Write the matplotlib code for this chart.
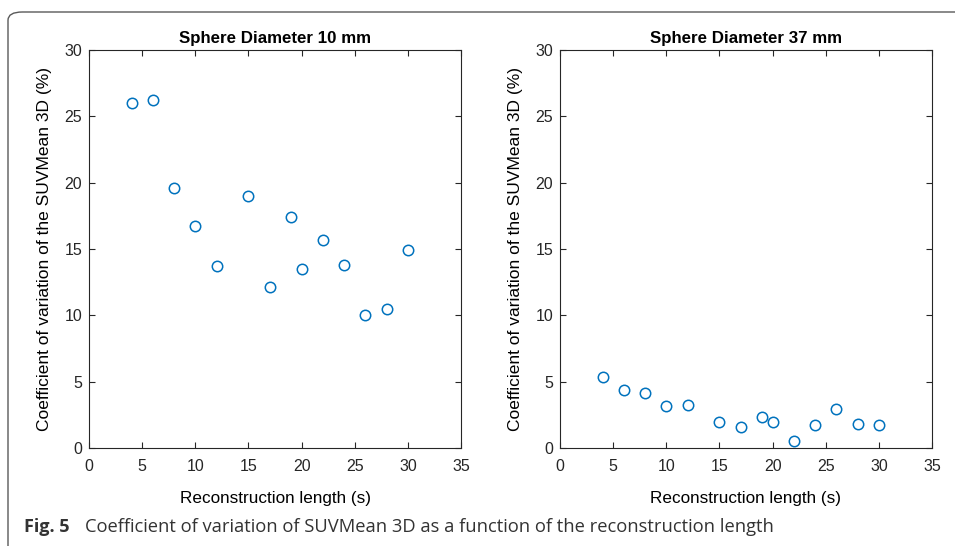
import numpy as np
import matplotlib.pyplot as plt
from matplotlib.patches import FancyBboxPatch

# reconstruction lengths (s) and coefficient of variation (%) per sphere size
recon_length = [4, 6, 8, 10, 12, 15, 17, 19, 20, 22, 24, 26, 28, 30]
cv_10mm = [26.0, 26.2, 19.6, 16.7, 13.7, 19.0, 12.1, 17.4, 13.5, 15.7, 13.8, 10.0, 10.5, 14.9]
cv_37mm = [5.35, 4.4, 4.12, 3.17, 3.27, 1.93, 1.6, 2.3, 1.93, 0.55, 1.7, 2.91, 1.78, 1.7]
titles = ["Sphere Diameter 10 mm", "Sphere Diameter 37 mm"]

plt.rcParams['font.family'] = ['Liberation Sans', 'DejaVu Sans']
matlab_blue = (0.0, 0.447, 0.741)
ink = (0.15, 0.15, 0.15)

fig = plt.figure(figsize=(9.55, 5.46), dpi=100)

# frame round the figure panel
frame = FancyBboxPatch((8 / 955, -0.2), 1.2, (546 - 12) / 546 + 0.2,
                       boxstyle="round,pad=0,rounding_size=0.015",
                       transform=fig.transFigure, fill=False,
                       edgecolor=(0.35, 0.35, 0.35), linewidth=1.0)
fig.patches.append(frame)

lefts = [89 / 955, 560 / 955]
for left, title, cv in zip(lefts, titles, [cv_10mm, cv_37mm]):
    ax = fig.add_axes([left, 98 / 546, 372 / 955, 398 / 546])
    ax.plot(recon_length, cv, 'o', markerfacecolor='none',
            markeredgecolor=matlab_blue, markersize=7.5, markeredgewidth=1.1)
    ax.set_xlim(0, 35)
    ax.set_ylim(0, 30)
    ax.set_xticks(np.arange(0, 36, 5))
    ax.set_yticks(np.arange(0, 31, 5))
    ax.tick_params(direction='in', length=4, width=0.8, top=True, right=True,
                   labelsize=11.5, colors=ink, pad=5)
    ax.tick_params(axis='x', pad=8)
    for spine in ax.spines.values():
        spine.set_color(ink)
        spine.set_linewidth(0.8)
    ax.set_title(title, fontsize=12.2, fontweight='bold', color='black', pad=5)
    ax.set_xlabel("Reconstruction length (s)", fontsize=12.3, color='black', labelpad=12)
    ax.set_ylabel("Coefficient of variation of the SUVMean 3D (%)", fontsize=12.5,
                  color='black', labelpad=9)

fig.text(24 / 955, 1 - 527 / 546, "Fig. 5", fontsize=13, fontweight='bold',
         family=['Open Sans', 'DejaVu Sans'], color=(0.2, 0.2, 0.2), va='center')
fig.text(85 / 955, 1 - 527 / 546,
         "Coefficient of variation of SUVMean 3D as a function of the reconstruction length",
         fontsize=13.2, family=['Open Sans', 'DejaVu Sans'], color=(0.2, 0.2, 0.2), va='center')

fig.savefig("out.png", dpi=100)
